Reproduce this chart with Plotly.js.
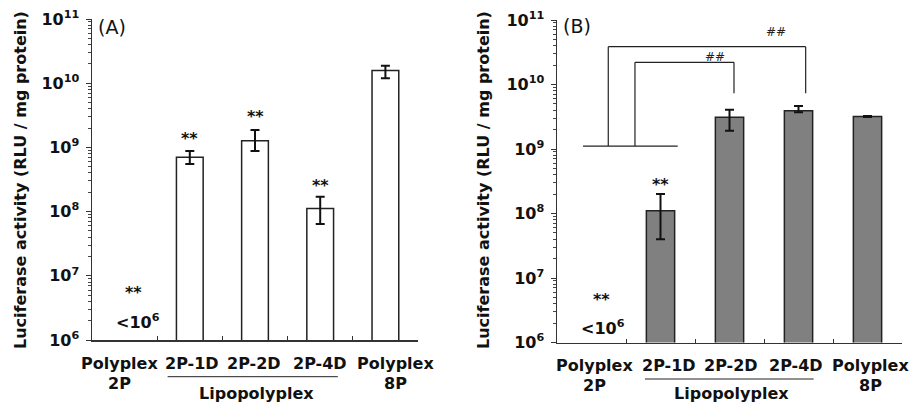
<!DOCTYPE html>
<html>
<head>
<meta charset="utf-8">
<script src="https://cdn.plot.ly/plotly-3.0.1.min.js"></script>
<style>html,body{margin:0;padding:0;background:#fff;}#chart{width:911px;height:403px;}</style>
</head>
<body>
<div id="chart"></div>
<script>
// ---- data ----
const categories = ['Polyplex<br>2P', '2P-1D', '2P-2D', '2P-4D', 'Polyplex<br>8P'];
const valuesA = [null, 7.0e8, 1.27e9, 1.12e8, 1.57e10];
const errPlusA = [null, 1.8e8, 6.0e8, 5.9e7, 3.0e9];
const errMinusA = [null, 1.5e8, 3.9e8, 4.8e7, 3.8e9];
const valuesB = [null, 1.10e8, 3.1e9, 3.93e9, 3.2e9];
const errPlusB = [null, 9.0e7, 9.7e8, 7.1e8, 6e7];
const errMinusB = [null, 7.0e7, 1.18e9, 2.2e8, 6e7];
const yTickVals = [1e6, 1e7, 1e8, 1e9, 1e10, 1e11];
const yTickText = ['10<sup>6</sup>', '10<sup>7</sup>', '10<sup>8</sup>', '10<sup>9</sup>', '10<sup>10</sup>', '10<sup>11</sup>'];
const yTitle = 'Luciferase activity (RLU / mg protein)';
const groupLabel = 'Lipopolyplex';
const sigStars = '**';
const belowLimit = '<10<sup>6</sup>';
const sigHash = '##';

// ---- placement (layout only) ----
const labelXA = [-0.08, 1.04, 1.98, 3.0, 4.15];
const labelXB = [0.05, 1.12, 2.02, 2.96, 4.04];

const FONT = 'DejaVu Sans, Liberation Sans, Arial, sans-serif';

// minor tick positions 2..9 x 10^k for the log axes
const minorVals = [];
for (let k = 6; k < 11; k++) for (let m = 2; m <= 9; m++) minorVals.push(m * Math.pow(10, k));

function bar(vals, plus, minus, xa, ya, fill) {
  return {
    type: 'bar', x: categories, y: vals, xaxis: xa, yaxis: ya,
    width: 0.41,
    marker: {color: fill, line: {color: '#222', width: 1.5}},
    error_y: {type: 'data', symmetric: false, array: plus, arrayminus: minus,
              color: '#111', thickness: 2, width: 4.5},
    hoverinfo: 'skip', showlegend: false
  };
}

const traces = [
  bar(valuesA, errPlusA, errMinusA, 'x', 'y', '#ffffff'),
  bar(valuesB, errPlusB, errMinusB, 'x2', 'y2', '#808080')
];

function xax(domain) {
  return {
    domain: domain, type: 'category', range: [-0.5, 4.5],
    tickson: 'boundaries', ticks: 'inside', ticklen: 4, tickcolor: '#333', tickwidth: 1,
    showline: true, linecolor: '#333', linewidth: 1.5,
    showgrid: false, zeroline: false, fixedrange: true,
    showticklabels: false
  };
}
function yax(domain, anchor) {
  return {
    domain: domain, anchor: anchor, type: 'log', range: [6, 11],
    tickmode: 'array', tickvals: yTickVals, ticktext: yTickText,
    ticks: 'outside', ticklen: 5, tickcolor: '#333', tickwidth: 1,
    minor: {tickmode: 'array', tickvals: minorVals, ticks: 'outside', ticklen: 3, tickcolor: '#444', tickwidth: 1, showgrid: false},
    showline: true, linecolor: '#333', linewidth: 1.5,
    showgrid: false, zeroline: false, fixedrange: true,
    ticklabelstandoff: 3,
    tickfont: {family: FONT, size: 16, color: '#111', weight: 'bold'}
  };
}

const annotations = [];
function ann(o) {
  annotations.push(Object.assign({showarrow: false, xanchor: 'center', yanchor: 'middle',
    font: {family: FONT, size: 16, color: '#111', weight: 'bold'}}, o));
}
// y titles
ann({text: yTitle, xref: 'paper', yref: 'paper', x: 20 / 911, y: 1 - 180 / 403, textangle: -90});
ann({text: yTitle, xref: 'paper', yref: 'paper', x: 483 / 911, y: 1 - 180 / 403, textangle: -90});
// panel labels
ann({text: '(A)', xref: 'paper', yref: 'paper', x: 112 / 911, y: 1 - 27 / 403,
     font: {family: FONT, size: 19, color: '#111'}});
ann({text: '(B)', xref: 'paper', yref: 'paper', x: 577 / 911, y: 1 - 26 / 403,
     font: {family: FONT, size: 19, color: '#111'}});
// category labels
categories.forEach((c, i) => {
  const parts = c.split('<br>');
  parts.forEach((p, j) => {
    ann({text: p, xref: 'x', yref: 'paper', x: labelXA[i], y: 1 - (363 + 20 * j) / 403});
    ann({text: p, xref: 'x2', yref: 'paper', x: labelXB[i], y: 1 - (365 + 20 * j) / 403});
  });
});
// group labels
ann({text: groupLabel, xref: 'x', yref: 'paper', x: 2.02, y: 1 - 393 / 403});
ann({text: groupLabel, xref: 'x2', yref: 'paper', x: 2.03, y: 1 - 393 / 403});
// significance stars panel A
ann({text: sigStars, xref: 'x', yref: 'y', x: 1, y: 9.146});
ann({text: sigStars, xref: 'x', yref: 'y', x: 2, y: 9.478});
ann({text: sigStars, xref: 'x', yref: 'y', x: 3, y: 8.414});
ann({text: sigStars, xref: 'x', yref: 'y', x: 0.13, y: 6.737});
ann({text: belowLimit, xref: 'x', yref: 'y', x: 0.2, y: 6.285});
// panel B
ann({text: sigStars, xref: 'x2', yref: 'y2', x: 1, y: 8.442});
ann({text: sigStars, xref: 'x2', yref: 'y2', x: 0.148, y: 6.674});
ann({text: belowLimit, xref: 'x2', yref: 'y2', x: 0.167, y: 6.225});
ann({text: sigHash, xref: 'x2', yref: 'y2', x: 2.67, y: 10.819, font: {family: FONT, size: 12, color: '#222'}});
ann({text: sigHash, xref: 'x2', yref: 'y2', x: 1.79, y: 10.431, font: {family: FONT, size: 12, color: '#222'}});

const ln = {color: '#222', width: 1.2};
const shapes = [
  // Lipopolyplex underlines
  {type: 'line', xref: 'x', yref: 'paper', x0: 0.66, x1: 3.27, y0: 1 - 376.7 / 403, y1: 1 - 376.7 / 403, line: {color: '#222', width: 1}},
  {type: 'line', xref: 'x2', yref: 'paper', x0: 0.775, x1: 3.22, y0: 1 - 379 / 403, y1: 1 - 379 / 403, line: {color: '#222', width: 1}},
  // comparison brackets panel B
  {type: 'line', xref: 'x2', yref: 'y2', x0: -0.123, x1: 1.249, y0: 1.11e9, y1: 1.11e9, line: ln},
  {type: 'line', xref: 'x2', yref: 'y2', x0: 0.243, x1: 0.243, y0: 1.11e9, y1: 3.86e10, line: ln},
  {type: 'line', xref: 'x2', yref: 'y2', x0: 0.243, x1: 3.104, y0: 3.86e10, y1: 3.86e10, line: ln},
  {type: 'line', xref: 'x2', yref: 'y2', x0: 3.104, x1: 3.104, y0: 3.86e10, y1: 7.3e9, line: ln},
  {type: 'line', xref: 'x2', yref: 'y2', x0: 0.63, x1: 0.63, y0: 1.11e9, y1: 2.21e10, line: ln},
  {type: 'line', xref: 'x2', yref: 'y2', x0: 0.63, x1: 2.065, y0: 2.21e10, y1: 2.21e10, line: ln},
  {type: 'line', xref: 'x2', yref: 'y2', x0: 2.065, x1: 2.065, y0: 2.21e10, y1: 7.3e9, line: ln}
];

const layout = {
  width: 911, height: 403,
  margin: {l: 0, r: 0, t: 0, b: 0},
  paper_bgcolor: '#fff', plot_bgcolor: 'rgba(0,0,0,0)',
  showlegend: false,
  xaxis: Object.assign(xax([92 / 911, 418 / 911]), {anchor: 'y'}),
  yaxis: yax([1 - 340 / 403, 1 - 19 / 403], 'x'),
  xaxis2: Object.assign(xax([557 / 911, 902 / 911]), {anchor: 'y2'}),
  yaxis2: yax([1 - 342.5 / 403, 1 - 20 / 403], 'x2'),
  annotations: annotations,
  shapes: shapes,
  font: {family: FONT, color: '#111'}
};

Plotly.newPlot('chart', traces, layout, {staticPlot: true, displayModeBar: false});
</script>
</body>
</html>
